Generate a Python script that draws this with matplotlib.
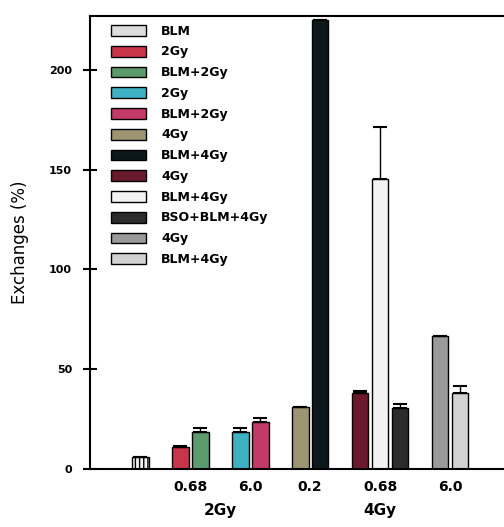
import matplotlib
matplotlib.use('Agg')
import matplotlib.pyplot as plt
from matplotlib.patches import Patch
import numpy as np

# data
labels = ['BLM', '2Gy', 'BLM+2Gy', '2Gy', 'BLM+2Gy', '4Gy', 'BLM+4Gy',
          '4Gy', 'BLM+4Gy', 'BSO+BLM+4Gy', '4Gy', 'BLM+4Gy']
values = [6, 11, 18.5, 18.5, 23.7, 31, 225, 38, 145.5, 30.7, 66.5, 38]
errors = [0, 0.5, 2.2, 2.0, 1.8, 0, 0, 1.2, 26, 1.7, 0, 3.6]
groups = [0, 1, 1, 2, 2, 3, 3, 4, 4, 4, 5, 5]
colors = ['#dcdcdc', '#c8344a', '#5c9c6c', '#3eb1c2', '#c23a66', '#9c9472',
          '#0d181c', '#6a1a2c', '#f2f2f2', '#2c2c2c', '#9a9a9a', '#d2d2d2']
dose_labels = ['0.68', '6.0', '0.2', '0.68', '6.0']
gy_labels = ['2Gy', '4Gy']

# positions: one empty slot between groups
pos = []
x = 7
for i, g in enumerate(groups):
    if i > 0 and g != groups[i - 1]:
        x += 2
    elif i > 0:
        x += 1
    pos.append(x)
pos = np.array(pos, dtype=float)

fig = plt.figure(figsize=(5.04, 5.27), dpi=100)
ax = fig.add_axes([90 / 504, 58 / 527, 1 - 90 / 504, (469 - 16) / 527])

bars = ax.bar(pos, values, width=0.85, color=colors, edgecolor='black', linewidth=1.0)
bars[0].set_facecolor('#f4f4f4')
bars[0].set_hatch('||||')
ax.errorbar(pos, values, yerr=[np.zeros(len(errors)), errors], fmt='none',
            ecolor='black', elinewidth=1.0, capsize=5, capthick=1.5)

ax.set_xlim(4.5, 25.2)
ax.set_ylim(0, 227)
ax.spines['right'].set_visible(False)
for s in ['left', 'bottom', 'top']:
    ax.spines[s].set_linewidth(1.5)

ax.set_yticks([0, 50, 100, 150, 200])
ax.tick_params(axis='y', direction='inout', length=10, width=1.5, pad=8)
for t in ax.get_yticklabels():
    t.set_fontfamily(['Liberation Sans Narrow', 'DejaVu Sans'])
    t.set_fontweight('bold')
    t.set_fontsize(8)

# dose tick labels under group centres
centres = [pos[np.array(groups) == g].mean() for g in range(1, 6)]
ax.set_xticks(centres)
ax.set_xticklabels(dose_labels, fontsize=10, fontweight='bold')
ax.tick_params(axis='x', length=0, pad=8)

ax.set_ylabel('Exchanges (%)', fontsize=12, labelpad=14)

ax.text((centres[0] + centres[1]) / 2, -21, gy_labels[0], ha='center', va='center',
        fontsize=11, fontweight='bold', clip_on=False)
ax.text(centres[3], -21, gy_labels[1], ha='center', va='center',
        fontsize=11, fontweight='bold', clip_on=False)

handles = [Patch(facecolor=c, edgecolor='black', linewidth=1.0) for c in colors]
ax.legend(handles, labels, loc='upper left', bbox_to_anchor=(0.03, 1.0),
          frameon=False, prop={'weight': 'bold', 'size': 9},
          handlelength=2.8, handleheight=0.95, labelspacing=0.62,
          handletextpad=1.2, borderaxespad=0.3)

fig.savefig('out.png', dpi=100)
